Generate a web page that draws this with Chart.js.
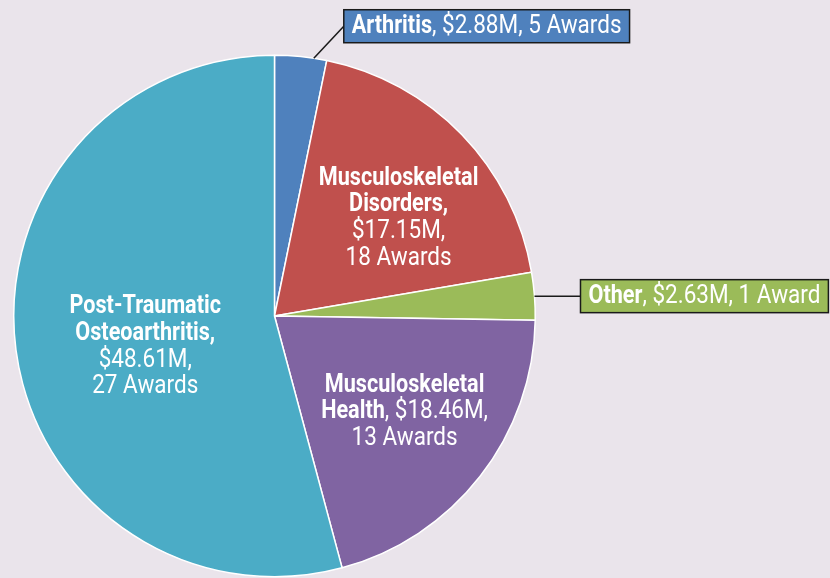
<!DOCTYPE html>
<html>
<head>
<meta charset="utf-8">
<script src="https://cdn.jsdelivr.net/npm/chart.js@4"></script>
<style>
  body { margin: 0; background: #EAE4EB; }
  canvas { display: block; }
</style>
</head>
<body>
<canvas id="pieChart" width="830" height="578"></canvas>
<script>
// slice data, clockwise from 12 o'clock
const categories = ['Arthritis', 'Musculoskeletal Disorders', 'Other', 'Musculoskeletal Health', 'Post-Traumatic Osteoarthritis'];
const fundingM = [2.88, 17.15, 2.63, 18.46, 48.61];
const awards = [5, 18, 1, 13, 27];
const colors = ['#4F81BD', '#C0504D', '#9BBB59', '#8064A2', '#4BACC6'];

const FONT = 'Roboto, "Noto Sans", sans-serif';
const SIZE = 25;
const LINE_H = 26.7;
// no condensed face installed, so squeeze glyphs sideways
const SQUEEZE_BOLD = 0.865;
const SQUEEZE_REG = 0.9;

// each label line is a list of [text, bold] parts
const labelLines = [
  [[['Arthritis', true], [', $' + fundingM[0].toFixed(2) + 'M, ' + awards[0] + ' Awards', false]]],
  [[['Musculoskeletal', true]], [['Disorders,', true]], [['$' + fundingM[1].toFixed(2) + 'M,', false]], [[awards[1] + ' Awards', false]]],
  [[['Other', true], [', $' + fundingM[2].toFixed(2) + 'M, ' + awards[2] + ' Award', false]]],
  [[['Musculoskeletal', true]], [['Health', true], [', $' + fundingM[3].toFixed(2) + 'M,', false]], [[awards[3] + ' Awards', false]]],
  [[['Post-Traumatic', true]], [['Osteoarthritis,', true]], [['$' + fundingM[4].toFixed(2) + 'M,', false]], [[awards[4] + ' Awards', false]]]
];

// where each label sits: inside (radius fraction + nudge) or in a callout box
const labelPlace = [
  { box: true, r: 1.0, at: 0.75, dx: 30, dy: -32 },
  { r: 0.55, dx: 21, dy: 2 },
  { box: true, r: 1.0, at: 0.5, dx: 46, dy: 0 },
  { r: 0.55, dx: 17, dy: 8 },
  { r: 0.5, dx: 0, dy: 14 }
];

function setFont(ctx, bold) {
  ctx.font = (bold ? 'bold ' : '') + SIZE + 'px ' + FONT;
}

function partWidth(ctx, p) {
  setFont(ctx, p[1]);
  return ctx.measureText(p[0]).width * (p[1] ? SQUEEZE_BOLD : SQUEEZE_REG);
}

function lineWidth(ctx, parts) {
  let w = 0;
  parts.forEach(p => { w += partWidth(ctx, p); });
  return w;
}

function drawLine(ctx, parts, x, y, align) {
  const w = lineWidth(ctx, parts);
  let cx = align === 'left' ? x : x - w / 2;
  parts.forEach(p => {
    const pw = partWidth(ctx, p);
    setFont(ctx, p[1]);
    ctx.save();
    ctx.translate(cx, y);
    ctx.scale(p[1] ? SQUEEZE_BOLD : SQUEEZE_REG, 1);
    ctx.fillText(p[0], 0, 0);
    ctx.restore();
    cx += pw;
  });
}

const labelPlugin = {
  id: 'labelPlugin',
  afterDatasetsDraw(chart) {
    const ctx = chart.ctx;
    ctx.save();
    ctx.textBaseline = 'middle';
    ctx.textAlign = 'left';
    chart.getDatasetMeta(0).data.forEach((arc, i) => {
      const p = arc.getProps(['x', 'y', 'startAngle', 'endAngle', 'outerRadius'], true);
      const place = labelPlace[i];
      const lines = labelLines[i];
      if (place.box) {
        // leader line from the rim to a box outside the pie
        const a = p.startAngle + (p.endAngle - p.startAngle) * place.at;
        const ex = p.x + Math.cos(a) * p.outerRadius;
        const ey = p.y + Math.sin(a) * p.outerRadius;
        const bx = ex + place.dx, by = ey + place.dy;
        const w = lineWidth(ctx, lines[0]) + 16;
        const h = 33;
        ctx.strokeStyle = '#1a1a1a';
        ctx.lineWidth = 1.5;
        ctx.beginPath();
        ctx.moveTo(ex, ey);
        ctx.lineTo(bx, by);
        ctx.stroke();
        ctx.fillStyle = colors[i];
        ctx.fillRect(bx, by - h / 2, w, h);
        ctx.strokeRect(bx, by - h / 2, w, h);
        ctx.fillStyle = '#ffffff';
        drawLine(ctx, lines[0], bx + 8, by + 1, 'left');
      } else {
        const mid = (p.startAngle + p.endAngle) / 2;
        const cx = p.x + Math.cos(mid) * p.outerRadius * place.r + place.dx;
        const cy = p.y + Math.sin(mid) * p.outerRadius * place.r + place.dy;
        ctx.fillStyle = '#ffffff';
        const top = cy - (lines.length - 1) * LINE_H / 2;
        lines.forEach((ln, k) => drawLine(ctx, ln, cx, top + k * LINE_H, 'center'));
      }
    });
    ctx.restore();
  }
};

new Chart(document.getElementById('pieChart'), {
  type: 'pie',
  data: {
    labels: categories,
    datasets: [{
      data: fundingM,
      backgroundColor: colors,
      borderColor: '#ffffff',
      borderWidth: 1.5
    }]
  },
  options: {
    responsive: false,
    animation: false,
    layout: { padding: { left: 13, right: 294, top: 54, bottom: 0 } },
    plugins: {
      legend: { display: false },
      tooltip: { enabled: false }
    }
  },
  plugins: [labelPlugin]
});
</script>
</body>
</html>
